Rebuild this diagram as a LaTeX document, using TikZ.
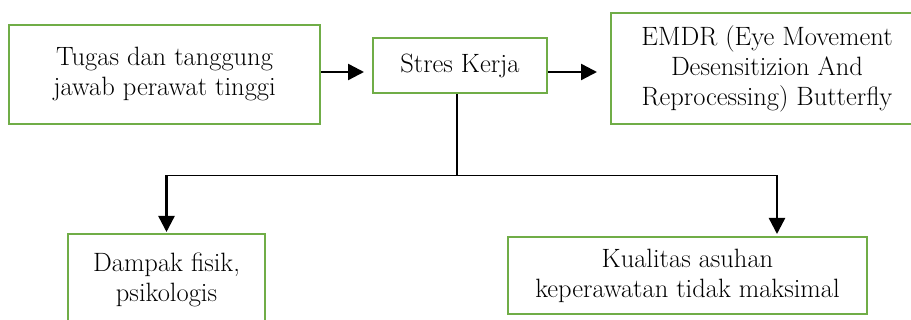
\documentclass[tikz,border=0pt]{standalone}
\usepackage{fontspec}
\usetikzlibrary{arrows.meta,calc}
\definecolor{cbox}{RGB}{112,173,71}

\begin{document}
\begin{tikzpicture}[x=1pt,y=-1pt,>={Triangle[length=16pt,width=16pt]},
   font=\rmfamily\fontsize{26.5}{30}\selectfont,
   b/.style={draw=cbox,line width=2pt,align=center,inner sep=0pt,fill=white},
   ln/.style={line width=1.5pt},
   ar/.style={line width=2.4pt,->}]
  \useasboundingbox (0,0) rectangle (911,320);
  \clip (0,0) rectangle (911,320);
  % boxes
  \node[b,minimum width=311pt,minimum height=99pt] (tug) at (164.5,74.5) {Tugas dan tanggung\\jawab perawat tinggi};
  \node[b,minimum width=174pt,minimum height=55pt] (str) at (460,66) {Stres Kerja};
  \node[b,minimum width=312pt,minimum height=111pt] (emdr) at (767,68.5) {EMDR (Eye Movement\\Desensitizion And\\Reprocessing) Butterfly};
  \node[b,minimum width=197pt,minimum height=92pt] (dmp) at (166.5,280) {Dampak fisik,\\psikologis};
  \node[b,minimum width=359pt,minimum height=77pt] (kual) at (687.5,275.5) {Kualitas asuhan\\keperawatan tidak maksimal};
  % top row arrows
  \coordinate (lvl) at (0,72);
  \draw[ar,shorten >=8pt] (tug.east |- lvl) -- (str.west |- lvl);
  \draw[ar,shorten >=13pt] (str.east |- lvl) -- (emdr.west |- lvl);
  % branch to the effects
  \coordinate (j) at ($(str.south)+(-3,81)$);
  \coordinate (kt) at ([xshift=89.5pt]kual.north);
  \draw[ln] (str.south -| j) -- (j);
  \draw[ln] (j -| dmp.north) -- (j -| kt);
  \draw[ar,shorten >=1pt] (j -| dmp.north) -- (dmp.north);
  \draw[ar,shorten >=2pt] (j -| kt) -- (kt);
\end{tikzpicture}
\end{document}
